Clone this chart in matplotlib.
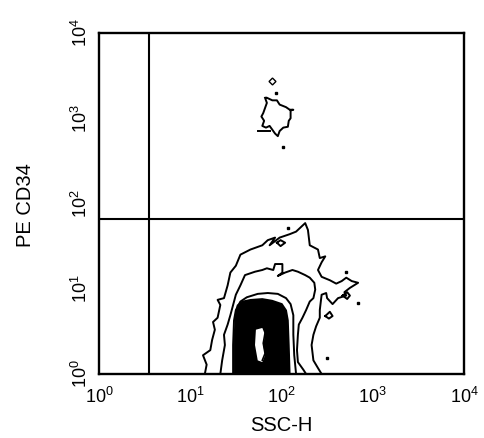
"""
PE CD34 vs SSC-H 流式等高线图
"""

import numpy as np
import matplotlib
matplotlib.use('Agg')
import matplotlib.pyplot as plt
from matplotlib.ticker import LogLocator

plt.rcParams['font.family'] = ['Liberation Sans', 'DejaVu Sans']

# 轴与门控
x_range = (1, 1e4)
y_range = (1, 1e4)
gate_ssc = 3.5      # 竖直门
gate_pe = 66        # 水平门

# 等高线顶点 (log10 单位)
outer_x = [1.16, 1.18, 1.14, 1.22, 1.24, 1.27, 1.25, 1.30, 1.33, 1.30, 1.37, 1.41, 1.44,
           1.50, 1.55, 1.66, 1.79, 1.85, 1.93, 1.87, 1.98, 2.09, 2.16, 2.20, 2.26, 2.29,
           2.31, 2.40, 2.42, 2.48, 2.44, 2.40, 2.44, 2.53, 2.60, 2.66, 2.71, 2.77, 2.84,
           2.75, 2.69, 2.71, 2.62, 2.56, 2.50, 2.49, 2.44, 2.42, 2.42, 2.38, 2.35, 2.33,
           2.35, 2.40, 2.44]
outer_y = [0.00, 0.11, 0.22, 0.28, 0.40, 0.52, 0.61, 0.66, 0.81, 0.87, 0.89, 1.04, 1.19,
           1.27, 1.40, 1.46, 1.51, 1.57, 1.60, 1.51, 1.60, 1.64, 1.67, 1.71, 1.77, 1.69,
           1.51, 1.46, 1.36, 1.38, 1.31, 1.22, 1.14, 1.10, 1.06, 1.09, 1.13, 1.09, 1.07,
           1.01, 0.96, 0.92, 0.89, 0.82, 0.89, 0.95, 0.93, 0.75, 0.66, 0.56, 0.46, 0.34,
           0.16, 0.07, 0.00]

mid_x = [1.33, 1.35, 1.38, 1.37, 1.41, 1.44, 1.47, 1.50, 1.55, 1.60, 1.71, 1.79, 1.84,
         1.91, 1.93, 2.01, 2.01, 1.96, 2.04, 2.12, 2.18, 2.26, 2.31, 2.36, 2.37, 2.35,
         2.31, 2.27, 2.23, 2.19, 2.18, 2.17, 2.18, 2.24, 2.27]
mid_y = [0.00, 0.16, 0.34, 0.46, 0.58, 0.69, 0.81, 0.93, 1.04, 1.16, 1.20, 1.22, 1.24,
         1.22, 1.29, 1.29, 1.19, 1.15, 1.19, 1.22, 1.20, 1.16, 1.13, 1.07, 0.99, 0.89,
         0.85, 0.75, 0.66, 0.58, 0.46, 0.28, 0.14, 0.05, 0.00]

inner_x = [1.47, 1.47, 1.48, 1.50, 1.55, 1.62, 1.74, 1.85, 1.96, 2.05, 2.10, 2.13, 2.13,
           2.14, 2.16]
inner_y = [0.00, 0.34, 0.63, 0.75, 0.85, 0.90, 0.94, 0.95, 0.94, 0.89, 0.82, 0.69, 0.46,
           0.22, 0.00]

core_x = [1.48, 1.48, 1.49, 1.51, 1.57, 1.66, 1.79, 1.90, 2.01, 2.06, 2.08, 2.09, 2.10]
core_y = [0.00, 0.52, 0.69, 0.81, 0.86, 0.88, 0.89, 0.87, 0.83, 0.75, 0.63, 0.34, 0.00]

hole_x = [1.72, 1.79, 1.82, 1.80, 1.82, 1.79, 1.74, 1.71]
hole_y = [0.52, 0.54, 0.46, 0.34, 0.22, 0.14, 0.16, 0.34]

# 小岛
islands = [
    ([1.95, 1.99, 2.04, 1.99, 1.95], [1.54, 1.57, 1.54, 1.50, 1.54]),
    ([2.67, 2.72, 2.75, 2.72, 2.67], [0.92, 0.96, 0.92, 0.88, 0.92]),
    ([2.48, 2.53, 2.56, 2.52, 2.48], [0.68, 0.73, 0.68, 0.65, 0.68]),
]

# CD34+ 群
top_x = [1.84, 1.90, 1.95, 1.98, 2.05, 2.09, 2.13, 2.10, 2.10, 2.08, 2.07, 2.02, 1.98,
         1.96, 1.93, 1.87, 1.83, 1.79, 1.81, 1.78, 1.80, 1.82, 1.84, 1.82]
top_y = [3.24, 3.21, 3.21, 3.16, 3.13, 3.10, 3.10, 3.09, 3.00, 2.97, 2.90, 2.89, 2.85,
         2.79, 2.82, 2.91, 2.89, 2.91, 2.97, 3.02, 3.06, 3.12, 3.18, 3.24]
tail_x = [1.74, 1.87]
tail_y = [2.85, 2.85]

# 散点
dot_x = [1.94, 2.02, 2.07, 2.71, 2.84, 2.50]
dot_y = [3.30, 2.66, 1.71, 1.20, 0.83, 0.19]
diamond_x = [1.90]
diamond_y = [3.44]

fig = plt.figure(figsize=(4.84, 4.38), dpi=100)
ax = fig.add_axes([0.2045, 0.1461, 0.7541, 0.7786])

lw = 1.4
for xs, ys in [(outer_x, outer_y), (mid_x, mid_y), (inner_x, inner_y),
               (top_x, top_y), (tail_x, tail_y)] + islands:
    ax.plot(10 ** np.array(xs), 10 ** np.array(ys), color='black', lw=lw)

ax.fill(10 ** np.array(core_x), 10 ** np.array(core_y), color='black', lw=0)
ax.fill(10 ** np.array(hole_x), 10 ** np.array(hole_y), color='white', lw=0)
ax.plot(10 ** np.array(hole_x[2:6]), 10 ** np.array(hole_y[2:6]) * 1.05, color='black', lw=1.2)

ax.plot(10 ** np.array(dot_x), 10 ** np.array(dot_y), 's', color='black', ms=1.6)
ax.plot(10 ** np.array(diamond_x), 10 ** np.array(diamond_y), 'D', mfc='white',
        mec='black', ms=3.5, mew=1)

ax.axvline(gate_ssc, color='black', lw=1.5)
ax.axhline(gate_pe, color='black', lw=1.5)

ax.set_xscale('log')
ax.set_yscale('log')
ax.set_xlim(*x_range)
ax.set_ylim(*y_range)
ax.xaxis.set_major_locator(LogLocator(base=10, numticks=5))
ax.yaxis.set_major_locator(LogLocator(base=10, numticks=5))
ax.minorticks_off()
ax.tick_params(axis='both', length=0, labelsize=13)
ax.tick_params(axis='x', pad=9)
ax.tick_params(axis='y', pad=6)
for lab in ax.get_yticklabels():
    lab.set_rotation(90)
    lab.set_va('center')

for s in ax.spines.values():
    s.set_linewidth(1.7)

ax.set_xlabel('SSC-H', fontsize=14.5)
ax.set_ylabel('PE CD34', fontsize=14.5)
ax.xaxis.set_label_coords(0.5, -0.123)
ax.yaxis.set_label_coords(-0.175, 0.494)

fig.savefig('out.png', dpi=100)
